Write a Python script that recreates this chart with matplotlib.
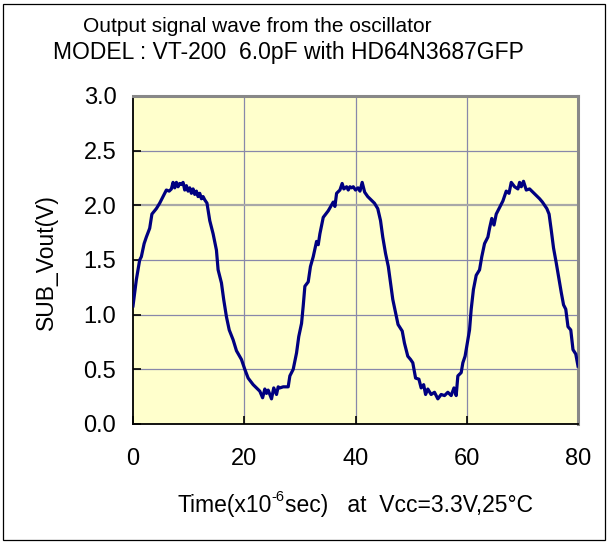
import matplotlib
matplotlib.use("Agg")
import matplotlib.pyplot as plt
from matplotlib.patches import Rectangle

plt.rcParams['font.family'] = ['Liberation Sans', 'DejaVu Sans']

title_line1 = "Output signal wave from the oscillator"
title_line2 = "MODEL : VT-200  6.0pF with HD64N3687GFP"
x_label_parts = ["Time(x10", "-6", "sec)   at  Vcc=3.3V,25°C"]
y_label = "SUB_Vout(V)"

x_ticks = [0, 20, 40, 60, 80]
y_ticks = [0.0, 0.5, 1.0, 1.5, 2.0, 2.5, 3.0]
y_tick_labels = ["0.0", "0.5", "1.0", "1.5", "2.0", "2.5", "3.0"]

time_us = [
    0.0, 0.6, 1.2, 1.5, 2.0, 2.4, 3.0, 3.4, 4.2, 4.8, 5.4, 6.0, 6.5, 6.9, 7.2, 7.5,
    7.8, 8.1, 8.4, 8.7, 9.0, 9.3, 9.6, 9.9, 10.2, 10.5, 10.8, 11.1, 11.4, 11.7, 12.0,
    12.3, 12.6, 12.9, 13.3, 13.8, 14.4, 15.0, 15.3, 15.9, 16.3, 16.8, 17.3, 18.0,
    18.6, 19.5, 20.1, 20.7, 21.6, 22.2, 22.8, 23.3, 23.7, 24.0, 24.3, 24.9, 25.3,
    25.8, 26.1, 26.4, 27.0, 27.9, 28.2, 28.8, 29.4, 29.8, 30.3, 30.6, 30.9, 31.5,
    31.9, 32.4, 33.0, 33.3, 33.6, 34.2, 35.1, 36.0, 36.3, 36.6, 37.2, 37.6, 37.9,
    38.4, 38.7, 39.0, 39.3, 39.6, 40.0, 40.45, 40.8, 41.2, 41.65, 42.2, 42.8, 43.4,
    44.0, 44.5, 44.9, 45.4, 45.9, 46.3, 46.7, 47.2, 47.65, 48.4, 48.8, 49.4, 49.9,
    50.3, 50.8, 51.4, 51.8, 52.25, 52.6, 53.0, 53.6, 54.2, 54.8, 55.4, 56.0, 56.6,
    57.2, 57.7, 58.1, 58.4, 59.0, 59.3, 59.7, 60.2, 60.5, 60.8, 61.2, 61.7, 62.3,
    62.7, 63.2, 63.8, 64.1, 64.5, 64.9, 65.3, 65.9, 66.5, 67.1, 67.6, 68.0, 68.6,
    69.2, 69.5, 69.8, 70.2, 70.7, 71.3, 71.9, 72.5, 73.1, 73.6, 74.0, 74.4, 74.8,
    75.2, 75.6, 76.1, 76.6, 77.0, 77.4, 77.8, 78.2, 78.7, 79.1, 79.6, 80.0,
]
vout = [
    1.08, 1.32, 1.50, 1.53, 1.65, 1.71, 1.79, 1.92, 1.97, 2.02, 2.08, 2.14, 2.13, 2.15, 2.21, 2.16,
    2.21, 2.17, 2.20, 2.19, 2.21, 2.14, 2.18, 2.13, 2.16, 2.11, 2.15, 2.10, 2.13, 2.08, 2.11,
    2.06, 2.08, 2.05, 2.02, 1.86, 1.74, 1.59, 1.41, 1.29, 1.14, 0.98, 0.86, 0.77,
    0.67, 0.59, 0.50, 0.42, 0.36, 0.33, 0.30, 0.24, 0.32, 0.28, 0.31, 0.23, 0.33,
    0.27, 0.34, 0.33, 0.34, 0.34, 0.44, 0.50, 0.65, 0.80, 0.92, 1.08, 1.26, 1.30,
    1.44, 1.53, 1.67, 1.64, 1.74, 1.89, 1.95, 2.03, 1.99, 2.11, 2.14, 2.20, 2.15,
    2.17, 2.14, 2.17, 2.16, 2.17, 2.14, 2.16, 2.13, 2.21, 2.12, 2.08, 2.05, 2.02,
    1.97, 1.86, 1.71, 1.56, 1.44, 1.29, 1.14, 1.02, 0.91, 0.85, 0.74, 0.62, 0.59,
    0.56, 0.42, 0.41, 0.33, 0.36, 0.27, 0.32, 0.27, 0.29, 0.23, 0.27, 0.26, 0.29,
    0.26, 0.33, 0.26, 0.44, 0.47, 0.56, 0.62, 0.77, 0.86, 1.05, 1.23, 1.36, 1.41,
    1.53, 1.65, 1.71, 1.79, 1.88, 1.82, 1.92, 1.98, 2.04, 2.13, 2.11, 2.21, 2.17,
    2.15, 2.21, 2.17, 2.22, 2.14, 2.15, 2.12, 2.09, 2.06, 2.03, 2.00, 1.97, 1.92,
    1.77, 1.61, 1.47, 1.32, 1.20, 1.09, 1.05, 0.89, 0.86, 0.68, 0.64, 0.53,
]

W, H = 609, 543
fig = plt.figure(figsize=(W / 100, H / 100), dpi=100)
fig.patch.set_facecolor('white')

ax = fig.add_axes([133 / W, 1 - 424 / H, (578 - 133) / W, (424 - 96) / H])
ax.set_facecolor('#FFFFCC')
ax.set_xlim(0, 80)
ax.set_ylim(0, 3.0)

# grid
for xv in [20, 40, 60]:
    ax.axvline(xv, color='#8888AA', lw=0.9, zorder=1)
for yv in [0.5, 1.0, 1.5, 2.5]:
    ax.axhline(yv, color='#8888AA', lw=0.9, zorder=1)
ax.axhline(2.0, color='#A8A8A8', lw=1.6, zorder=1)

ax.plot(time_us, vout, color='#000080', lw=2.3, zorder=3, solid_joinstyle='round')

ax.set_xticks(x_ticks)
ax.set_xticklabels([str(v) for v in x_ticks])
ax.set_yticks(y_ticks)
ax.set_yticklabels(y_tick_labels)
ax.tick_params(axis='x', direction='in', length=6, width=1.2, color='black',
               labelsize=17, pad=17.5)
ax.tick_params(axis='y', direction='in', length=6, width=1.2, color='black',
               labelsize=17, pad=12)

for side in ['left', 'bottom']:
    ax.spines[side].set_color('black')
    ax.spines[side].set_linewidth(1.3)
for side in ['top', 'right']:
    ax.spines[side].set_color('#888888')
    ax.spines[side].set_linewidth(2.2)

fig.text(257 / W, 1 - 32 / H, title_line1, ha='center', va='baseline', fontsize=15)
fig.text(288 / W, 1 - 59 / H, title_line2, ha='center', va='baseline', fontsize=16.5)
fig.text(46 / W, 1 - 262 / H, y_label, ha='center', va='center', rotation=90, fontsize=16.5)

# x label with a small raised "-6"
renderer = fig.canvas.get_renderer()
sizes = [16.5, 10.5, 16.5]
rises = [0, 11, 0]
base_y = 512
arts = []
for txt, fs in zip(x_label_parts, sizes):
    t = fig.text(0, 0, txt, fontsize=fs, ha='left', va='baseline')
    arts.append(t)
widths = [a.get_window_extent(renderer).width for a in arts]
total = sum(widths)
x0 = 355 - total / 2
for a, w, r in zip(arts, widths, rises):
    a.set_position((x0 / W, 1 - (base_y - r) / H))
    x0 += w

fig.patches.append(Rectangle((3 / W, 3 / H), (W - 7) / W, (H - 7) / H,
                             transform=fig.transFigure, fill=False,
                             edgecolor='black', lw=0.9))

fig.savefig('out.png', dpi=100)
